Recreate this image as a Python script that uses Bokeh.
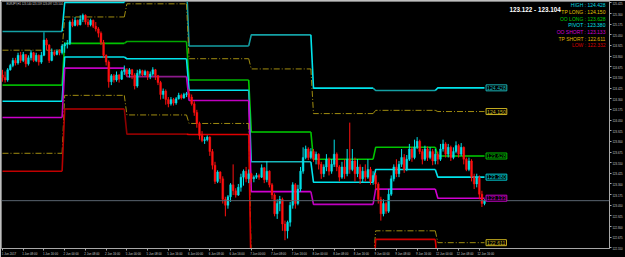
from bokeh.plotting import figure
from bokeh.models import Range1d, LinearAxis, FixedTicker, Label, ColumnDataSource, PrintfTickFormatter, Span
from bokeh.embed import file_html
from bokeh.resources import INLINE

# ---------------- data (EURJPY H1, 1 Jun - 12 Jun 2017) ----------------
opens = [
    124.58, 124.55, 124.52, 124.64, 124.69, 124.75, 124.72, 124.81, 124.75, 124.82, 124.71, 124.78, 124.84, 124.75, 124.81, 124.73, 124.81, 124.99, 124.93, 124.75, 124.85, 124.82, 124.86, 124.84,
    124.92, 124.94, 124.95, 125.20, 125.16, 125.22, 125.17, 125.23, 125.28, 125.20, 125.17, 125.22, 125.15, 125.12, 125.07, 124.96, 124.81, 124.73, 124.50, 124.57, 124.52, 124.58, 124.53, 124.62,
    124.64, 124.59, 124.64, 124.58, 124.45, 124.60, 124.63, 124.58, 124.62, 124.56, 124.59, 124.64, 124.57, 124.49, 124.35, 124.39, 124.29, 124.24, 124.29, 124.25, 124.30, 124.34, 124.31, 124.35,
    124.36, 124.32, 124.24, 124.14, 124.01, 123.87, 123.81, 123.82, 123.85, 123.68, 123.52, 123.33, 123.44, 123.36, 123.12, 123.05, 123.15, 123.29, 123.22, 123.17, 123.26, 123.38, 123.45, 123.36,
    123.42, 123.36, 123.38, 123.40, 123.38, 123.49, 123.35, 123.45, 123.29, 123.17, 122.95, 123.07, 123.12, 122.83, 122.75, 122.85, 123.05, 123.29, 123.07, 123.24, 123.45, 123.61, 123.71, 123.61,
    123.68, 123.59, 123.65, 123.53, 123.42, 123.50, 123.59, 123.45, 123.53, 123.65, 123.50, 123.38, 123.50, 123.42, 123.59, 123.47, 123.57, 123.42, 123.50, 123.36, 123.45, 123.38, 123.47, 123.33,
    123.40, 123.30, 123.12, 122.95, 123.07, 122.98, 123.18, 123.36, 123.50, 123.42, 123.53, 123.61, 123.47, 123.59, 123.71, 123.61, 123.73, 123.80, 123.68, 123.59, 123.71, 123.61, 123.68, 123.57,
    123.65, 123.59, 123.71, 123.77, 123.65, 123.73, 123.61, 123.68, 123.75, 123.65, 123.73, 123.59, 123.47, 123.57, 123.38, 123.30, 123.38, 123.18, 123.07,
]
closes = [
    124.55, 124.52, 124.64, 124.69, 124.75, 124.72, 124.81, 124.75, 124.82, 124.71, 124.78, 124.84, 124.75, 124.81, 124.73, 124.81, 124.99, 124.93, 124.75, 124.85, 124.82, 124.86, 124.84, 124.92,
    124.94, 124.95, 125.20, 125.16, 125.22, 125.17, 125.23, 125.28, 125.20, 125.17, 125.22, 125.15, 125.12, 125.07, 124.96, 124.81, 124.73, 124.50, 124.57, 124.52, 124.58, 124.53, 124.62, 124.64,
    124.59, 124.64, 124.58, 124.45, 124.60, 124.63, 124.58, 124.62, 124.56, 124.59, 124.64, 124.57, 124.49, 124.35, 124.39, 124.29, 124.24, 124.29, 124.25, 124.30, 124.34, 124.31, 124.35, 124.36,
    124.32, 124.24, 124.14, 124.01, 123.87, 123.81, 123.82, 123.85, 123.68, 123.52, 123.33, 123.44, 123.36, 123.12, 123.05, 123.15, 123.29, 123.22, 123.17, 123.26, 123.38, 123.45, 123.36, 123.42,
    123.36, 123.38, 123.40, 123.38, 123.49, 123.35, 123.45, 123.29, 123.17, 122.95, 123.07, 123.12, 122.83, 122.75, 122.85, 123.05, 123.29, 123.07, 123.24, 123.45, 123.61, 123.71, 123.61, 123.68,
    123.59, 123.65, 123.53, 123.42, 123.50, 123.59, 123.45, 123.53, 123.65, 123.50, 123.38, 123.50, 123.42, 123.59, 123.47, 123.57, 123.42, 123.50, 123.36, 123.45, 123.38, 123.47, 123.33, 123.40,
    123.30, 123.12, 122.95, 123.07, 122.98, 123.18, 123.36, 123.50, 123.42, 123.53, 123.61, 123.47, 123.59, 123.71, 123.61, 123.73, 123.80, 123.68, 123.59, 123.71, 123.61, 123.68, 123.57, 123.65,
    123.59, 123.71, 123.77, 123.65, 123.73, 123.61, 123.68, 123.75, 123.65, 123.73, 123.59, 123.47, 123.57, 123.38, 123.30, 123.38, 123.18, 123.07, 123.10,
]
highs = [
    124.64, 124.62, 124.66, 124.71, 124.78, 124.78, 124.84, 124.85, 124.85, 124.82, 124.81, 124.87, 124.85, 124.84, 124.82, 124.85, 125.08, 125.01, 124.94, 124.89, 124.87, 124.88, 124.88, 124.94,
    124.96, 124.99, 125.22, 125.24, 125.26, 125.23, 125.28, 125.30, 125.29, 125.24, 125.24, 125.23, 125.20, 125.14, 125.09, 124.99, 124.82, 124.75, 124.59, 124.59, 124.62, 124.59, 124.64, 124.69,
    124.66, 124.66, 124.65, 124.60, 124.64, 124.65, 124.64, 124.64, 124.63, 124.62, 124.67, 124.65, 124.58, 124.51, 124.42, 124.41, 124.32, 124.32, 124.31, 124.32, 124.37, 124.36, 124.37, 124.38,
    124.41, 124.35, 124.27, 124.17, 124.03, 123.92, 123.85, 123.87, 123.86, 123.71, 123.56, 123.46, 123.45, 123.39, 123.15, 123.17, 123.31, 123.53, 123.25, 123.30, 123.42, 123.47, 123.50, 123.47,
    123.43, 123.40, 123.43, 123.42, 123.53, 123.50, 123.57, 123.46, 123.31, 123.19, 123.12, 123.16, 123.14, 122.87, 122.87, 123.09, 123.32, 123.31, 123.29, 123.50, 123.73, 123.75, 123.73, 123.72,
    123.71, 123.68, 123.66, 123.56, 123.53, 123.65, 123.61, 123.59, 123.82, 123.67, 123.52, 123.56, 123.59, 123.71, 124.02, 123.71, 123.61, 123.59, 123.53, 123.50, 123.53, 123.59, 123.50, 123.45,
    123.43, 123.32, 123.15, 123.12, 123.09, 123.24, 123.40, 123.53, 123.59, 123.57, 123.71, 123.65, 123.64, 123.77, 123.73, 123.82, 123.85, 123.82, 123.71, 123.75, 123.74, 123.73, 123.71, 123.71,
    123.68, 123.77, 123.82, 123.79, 123.77, 123.75, 123.73, 123.80, 123.77, 123.78, 123.74, 123.61, 123.61, 123.59, 123.42, 123.42, 123.40, 123.22, 123.12,
]
lows = [
    124.50, 124.49, 124.50, 124.63, 124.67, 124.69, 124.70, 124.72, 124.73, 124.67, 124.69, 124.75, 124.73, 124.73, 124.69, 124.71, 124.80, 124.87, 124.72, 124.74, 124.80, 124.81, 124.81, 124.82,
    124.84, 124.89, 124.93, 125.14, 125.15, 125.15, 125.16, 125.20, 125.17, 125.14, 125.15, 125.13, 125.09, 125.02, 124.93, 124.78, 124.69, 124.43, 124.46, 124.49, 124.50, 124.49, 124.52, 124.58,
    124.56, 124.55, 124.53, 124.41, 124.43, 124.57, 124.56, 124.57, 124.52, 124.53, 124.57, 124.52, 124.46, 124.29, 124.30, 124.23, 124.20, 124.22, 124.22, 124.23, 124.29, 124.29, 124.30, 124.32,
    124.30, 124.22, 124.10, 123.96, 123.82, 123.79, 123.77, 123.80, 123.63, 123.47, 123.30, 123.31, 123.31, 123.07, 122.92, 123.01, 123.09, 123.17, 123.14, 123.16, 123.21, 123.28, 123.32, 123.31,
    123.32, 123.32, 123.36, 123.35, 123.37, 123.31, 123.32, 123.26, 123.12, 122.92, 122.89, 122.98, 122.75, 122.64, 122.66, 122.80, 123.01, 123.01, 123.05, 123.21, 123.42, 123.59, 123.58, 123.59,
    123.56, 123.53, 123.47, 123.36, 123.38, 123.45, 123.40, 123.42, 123.50, 123.45, 123.33, 123.36, 123.36, 123.39, 123.42, 123.45, 123.33, 123.38, 123.30, 123.32, 123.33, 123.36, 123.29, 123.29,
    123.24, 123.07, 122.87, 122.92, 122.95, 122.96, 123.16, 123.33, 123.38, 123.38, 123.50, 123.43, 123.45, 123.57, 123.56, 123.59, 123.71, 123.65, 123.53, 123.57, 123.57, 123.59, 123.52, 123.53,
    123.53, 123.57, 123.68, 123.61, 123.61, 123.57, 123.59, 123.66, 123.61, 123.63, 123.53, 123.45, 123.45, 123.33, 123.24, 123.26, 123.12, 123.03, 123.05,
]

bars_per_day = 24
# daily levels (1, 2, 5, 6, 7, 8, 9, 12 Jun)
level_high = [125.09, 125.43, 125.65, 124.92, 125.05, 124.425, 124.397, 124.428]
level_tp_long = [124.87, 125.26, 125.414, 124.77, 124.65, 124.126, 124.164, 124.150]
level_oo_long = [124.46, 124.95, 124.972, 124.52, 123.91, 123.59, 123.73, 123.628]
level_pivot = [124.27, 124.79, 124.77, 124.40, 123.56, 123.32, 123.47, 123.380]
level_oo_short = [124.08, 124.66, 124.56, 124.28, 123.21, 123.06, 123.24, 123.133]
level_tp_short = [123.66, 124.34, 124.11, 124.01, 122.40, 122.35, 122.75, 122.611]
level_low = [123.45, 124.18, 123.885, 123.88, 122.10, 122.05, 122.65, 122.332]

bid = 123.104
ask_bid_text = "123.122 - 123.104"
y_ticks = [122.550, 122.675, 122.800, 122.925, 123.050, 123.175, 123.300, 123.425, 123.550, 123.675,
           123.800, 123.925, 124.050, 124.175, 124.300, 124.425, 124.550, 124.675, 124.800, 124.925,
           125.050, 125.175, 125.300, 125.425]
x_tick_bars = list(range(0, 185, 8))
x_tick_labels = ["1 Jun 2017", "1 Jun 08:00", "1 Jun 16:00", "2 Jun 00:00", "2 Jun 08:00", "2 Jun 16:00",
                 "5 Jun 00:00", "5 Jun 08:00", "5 Jun 16:00", "6 Jun 00:00", "6 Jun 08:00", "6 Jun 16:00",
                 "7 Jun 00:00", "7 Jun 08:00", "7 Jun 16:00", "8 Jun 00:00", "8 Jun 08:00", "8 Jun 16:00",
                 "9 Jun 00:00", "9 Jun 08:00", "9 Jun 16:00", "12 Jun 00:00", "12 Jun 08:00", "12 Jun 16:00"]

# ---------------- layout ----------------
W, H = 625, 257
FL, FR, FT, FB = 1, 611, 1, 250
X0, X1 = -0.385, 234.23
Y_TOP, Y_BOT = 125.4414, 122.5426
FONT = "Liberation Sans"


def px_x(px):
    return X0 + (px - FL) / (FR - FL) * (X1 - X0)


def px_y(py):
    return Y_TOP - (py - FT) / (FB - FT) * (Y_TOP - Y_BOT)


p = figure(width=W, height=H, x_range=Range1d(X0, X1), y_range=Range1d(Y_BOT, Y_TOP),
           output_backend="svg", toolbar_location=None, x_axis_location=None, y_axis_location=None,
           min_border_left=FL, min_border_top=FT, min_border_right=W - FR, min_border_bottom=H - FB)
p.background_fill_color = "black"
p.border_fill_color = "black"
p.outline_line_color = "#7c7c7c"
p.xgrid.visible = False
p.ygrid.visible = False

ya = LinearAxis(ticker=FixedTicker(ticks=y_ticks), formatter=PrintfTickFormatter(format="%.3f"))
ya.axis_line_color = "#a8a8a8"
ya.major_tick_line_color = "#a8a8a8"
ya.major_tick_out = 2
ya.major_tick_in = 0
ya.minor_tick_line_color = None
ya.minor_tick_out = 0
ya.major_label_text_color = "#c8c8c8"
ya.major_label_text_font = FONT
ya.major_label_text_font_size = "2.8px"
ya.major_label_standoff = 1
p.add_layout(ya, "right")

shift = 2.5
xa = LinearAxis(ticker=FixedTicker(ticks=[b + shift for b in x_tick_bars], minor_ticks=x_tick_bars))
xa.major_label_overrides = {b + shift: t for b, t in zip(x_tick_bars, x_tick_labels)}
xa.axis_line_color = "#a8a8a8"
xa.major_tick_line_color = None
xa.major_tick_out = 0
xa.major_tick_in = 0
xa.minor_tick_line_color = "#a8a8a8"
xa.minor_tick_out = 2
xa.minor_tick_in = 0
xa.major_label_text_color = "#c8c8c8"
xa.major_label_text_font = FONT
xa.major_label_text_font_size = "2.9px"
xa.major_label_standoff = 1
p.add_layout(xa, "below")

# ---------------- level lines ----------------
n = len(closes)
CY, TEAL = "#00e4ec", "#14a0a4"
levels = [
    ("HIGH", level_high, [TEAL, CY, CY, TEAL, TEAL, CY, TEAL, CY], None, "#00d8e0", "#1ab4b8"),
    ("TP LONG", level_tp_long, ["#a08c10"] * 8, "6 2 1 2", "#e0c400", "#c8b020"),
    ("OO LONG", level_oo_long, ["#00b400", "#00c400", "#00a800", "#00b400", "#00d000", "#00c400", "#00c400", "#00d000"], None, "#00c800", "#00c000"),
    ("PIVOT", level_pivot, [CY, CY, CY, CY, "#18b8bc", CY, CY, CY], None, "#00e0e8", "#00d0d8"),
    ("OO SHORT", level_oo_short, ["#cc00cc", "#c000c0", "#8c1a8c", "#c000c0", "#d000d0", "#c000c0", "#c000c0", "#d000d0"], None, "#d000d0", "#c800c8"),
    ("TP SHORT", level_tp_short, ["#a08c10"] * 8, "6 2 1 2", "#e0b400", "#c8b020"),
    ("LOW", level_low, ["#c00000", "#b80000", "#8c0000", "#e00000", "#e00000", "#e00000", "#d00000", "#e00000"], None, "#d80000", "#d00000"),
]

for name, vals, cols, dash, _lc, _bc in levels:
    for d, v in enumerate(vals):
        s = d * bars_per_day
        e = min(s + bars_per_day - 1, n - 1)
        if d == 0:
            xs, ys = [s, e], [v, v]
        else:
            xs, ys = [s - 1, s, e], [vals[d - 1], v, v]
        kw = dict(line_color=cols[d], line_width=1 if dash else 1.6)
        if dash:
            kw["line_dash"] = dash
        p.line(xs, ys, **kw)

# bid line
p.add_layout(Span(location=bid, dimension="width", line_color="#5a6470", line_width=1))

# ---------------- candles ----------------
idx = list(range(n))
up = [c >= o for o, c in zip(opens, closes)]
colors = ["#00e0e8" if u else "#ff1010" for u in up]
src = ColumnDataSource(dict(x=idx, h=highs, l=lows,
                            top=[max(o, c) for o, c in zip(opens, closes)],
                            bot=[min(o, c) for o, c in zip(opens, closes)],
                            col=colors))
p.segment(x0="x", y0="h", x1="x", y1="l", line_color="col", line_width=1, source=src)
p.vbar(x="x", width=0.72, top="top", bottom="bot", fill_color="col", line_color="col",
       line_width=0.4, source=src)

# ---------------- right-edge value boxes ----------------
for name, vals, cols, dash, lc, bc in levels:
    v = vals[-1]
    if v < Y_BOT or v > Y_TOP:
        continue
    p.add_layout(Label(x=n - 0.4, y=v, text=f"{v:.3f}", text_align="left", text_baseline="middle",
                       text_font=FONT, text_font_size="5.2px", text_color=bc,
                       border_line_color=bc, border_line_width=1, background_fill_color="black",
                       padding=1))

# ---------------- legend / info texts ----------------
leg_y = [5, 11.7, 18.3, 24.9, 31.6, 38.3, 45]
for (name, vals, cols, dash, lc, bc), yy in zip(levels, leg_y):
    p.add_layout(Label(x=px_x(607), y=px_y(yy), text=f"{name} : {vals[-1]:.3f}", text_align="right",
                       text_baseline="middle", text_font=FONT, text_font_size="5px", text_color=lc))

p.add_layout(Label(x=px_x(562), y=px_y(9.5), text=ask_bid_text, text_align="right", text_baseline="middle",
                   text_font=FONT, text_font_size="6.3px", text_font_style="bold", text_color="white"))
p.add_layout(Label(x=px_x(6), y=px_y(4.5), text="EURJPY,H1  123.140 123.159 123.097 123.104",
                   text_align="left", text_baseline="middle", text_font=FONT, text_font_size="2.7px",
                   text_color="#d0d0d0"))
p.add_layout(Label(x=px_x(612.5), y=bid, text=f"{bid:.3f}", text_align="left", text_baseline="middle",
                   text_font=FONT, text_font_size="2.8px", text_color="black",
                   background_fill_color="#c4c4c4", padding=1))

open("out.html", "w").write(file_html(p, INLINE))
